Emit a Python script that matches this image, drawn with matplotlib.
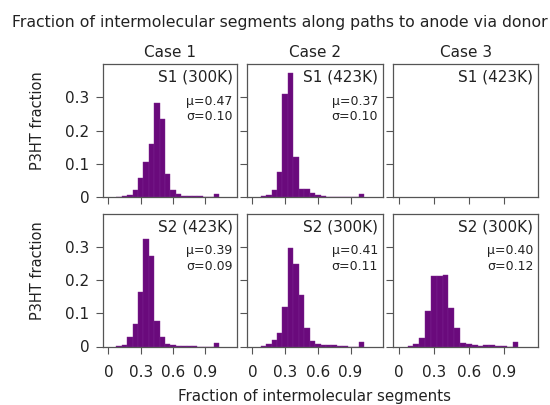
import matplotlib
matplotlib.use("Agg")
import matplotlib.pyplot as plt

# --- data (bin centres, bin width 0.05) ---
bin_centers = [0.10, 0.15, 0.20, 0.25, 0.30, 0.35, 0.40, 0.45, 0.50, 0.55,
               0.60, 0.65, 0.70, 0.75, 0.80, 0.85, 0.90, 0.95, 1.00]

s1_case1 = [0.001, 0.002, 0.005, 0.020, 0.056, 0.106, 0.160, 0.283, 0.234, 0.069,
            0.020, 0.008, 0.004, 0.002, 0.002, 0.002, 0.000, 0.000, 0.008]
s1_case2 = [0.002, 0.005, 0.020, 0.076, 0.311, 0.374, 0.120, 0.023, 0.023, 0.012,
            0.005, 0.002, 0.001, 0.001, 0.001, 0.000, 0.000, 0.000, 0.010]
s1_case3 = []
s2_case1 = [0.003, 0.005, 0.028, 0.068, 0.164, 0.325, 0.272, 0.078, 0.028, 0.008,
            0.004, 0.003, 0.001, 0.002, 0.002, 0.000, 0.000, 0.000, 0.010]
s2_case2 = [0.002, 0.008, 0.020, 0.042, 0.120, 0.298, 0.250, 0.155, 0.057, 0.018,
            0.008, 0.006, 0.004, 0.004, 0.003, 0.003, 0.000, 0.000, 0.013]
s2_case3 = [0.002, 0.008, 0.025, 0.108, 0.212, 0.212, 0.216, 0.115, 0.055, 0.010,
            0.007, 0.006, 0.002, 0.004, 0.004, 0.001, 0.001, 0.000, 0.015]

case_titles = ["Case 1", "Case 2", "Case 3"]
panel_labels = [["S1 (300K)", "S1 (423K)", "S1 (423K)"],
                ["S2 (423K)", "S2 (300K)", "S2 (300K)"]]
panel_stats = [[("0.47", "0.10"), ("0.37", "0.10"), None],
               [("0.39", "0.09"), ("0.41", "0.11"), ("0.40", "0.12")]]
panel_data = [[s1_case1, s1_case2, s1_case3],
              [s2_case1, s2_case2, s2_case3]]

x_ticks = [0, 0.3, 0.6, 0.9]
x_tick_labels = ["0", "0.3", "0.6", "0.9"]
y_ticks = [0, 0.1, 0.2, 0.3]
y_tick_labels = ["0", "0.1", "0.2", "0.3"]

bar_color = "#6a0a7c"
axis_color = "#555555"
text_color = "#222222"

W, H = 550, 405
fig = plt.figure(figsize=(W / 100, H / 100), dpi=100)

# panel boxes in pixels: (left, right) per column, (top, bottom) per row
col_px = [(103.3, 237.3), (247.3, 382.7), (393.3, 538.3)]
row_px = [(64.0, 197.0), (214.0, 346.5)]

for r in range(2):
    for c in range(3):
        l, rr = col_px[c]
        t, b = row_px[r]
        ax = fig.add_axes([l / W, 1 - b / H, (rr - l) / W, (b - t) / H])
        data = panel_data[r][c]
        if data:
            ax.bar(bin_centers, data, width=0.05, color=bar_color,
                   edgecolor="#7d2590", linewidth=0.3)
        ax.set_xlim(-0.047, 1.195)
        ax.set_ylim(0, 0.40)
        ax.set_xticks(x_ticks)
        ax.set_yticks(y_ticks)
        if r == 1:
            ax.set_xticklabels(x_tick_labels, fontsize=11)
        else:
            ax.set_xticklabels([])
        if c == 0:
            ax.set_yticklabels(y_tick_labels, fontsize=11)
        else:
            ax.set_yticklabels([])
        ax.tick_params(direction="out", length=5, width=0.8, color=axis_color,
                       labelcolor=text_color)
        ax.tick_params(axis="x", pad=8)
        ax.tick_params(axis="y", pad=5)
        for sp in ax.spines.values():
            sp.set_color(axis_color)
            sp.set_linewidth(0.9)
        if r == 0:
            ax.set_title(case_titles[c], fontsize=11, pad=5, color=text_color)
        ax.text(0.965, 0.955, panel_labels[r][c], transform=ax.transAxes,
                ha="right", va="top", fontsize=11, color=text_color)
        st = panel_stats[r][c]
        if st:
            ax.text(0.965, 0.77, "\u03bc=" + st[0] + "\n\u03c3=" + st[1],
                    transform=ax.transAxes, ha="right", va="top",
                    fontsize=9, color=text_color, linespacing=1.25)

fig.text(11.7 / W, 1 - 22 / H,
         "Fraction of intermolecular segments along paths to anode via donor",
         ha="left", va="center", fontsize=11.3, color=text_color)
fig.text(38 / W, 1 - 121 / H, "P3HT fraction", rotation=90,
         ha="center", va="center", fontsize=10.5, color=text_color)
fig.text(38 / W, 1 - 271 / H, "P3HT fraction", rotation=90,
         ha="center", va="center", fontsize=10.5, color=text_color)
fig.text(315 / W, 1 - 397 / H, "Fraction of intermolecular segments",
         ha="center", va="center", fontsize=10.8, color=text_color)

fig.savefig("out.png", dpi=100)
